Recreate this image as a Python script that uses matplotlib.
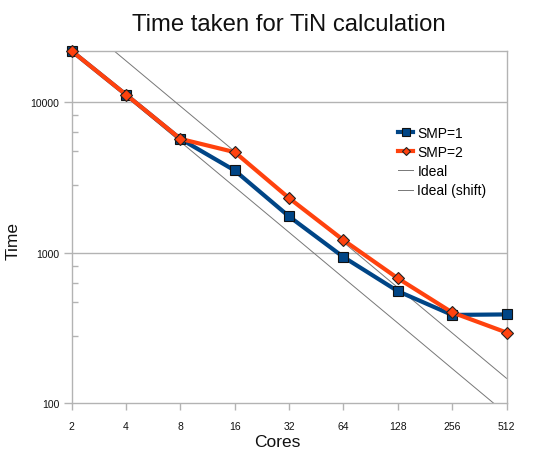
import matplotlib
matplotlib.use("Agg")
import matplotlib.pyplot as plt
from matplotlib.ticker import FixedLocator, NullFormatter

plt.rcParams['font.family'] = ['Liberation Sans', 'DejaVu Sans']

cores = [2, 4, 8, 16, 32, 64, 128, 256, 512]
smp1 = [21800, 11180, 5690, 3510, 1738, 935, 555, 386, 389]
smp2 = [21800, 11180, 5690, 4645, 2300, 1211, 676, 401, 295]
ideal = [21800, 10900, 5450, 2725, 1363, 681, 341, 170, 85]
ideal_shift = [37500, 18750, 9375, 4690, 2344, 1172, 586, 293, 146.5]
x_labels = ['2', '4', '8', '16', '32', '64', '128', '256', '512']
y_ticks = [100, 1000, 10000]
y_labels = ['100', '1000', '10000']

W, H = 555, 456
fig = plt.figure(figsize=(W / 100, H / 100), dpi=100)
left, right, top, bottom = 71.7, 506.5, 52.0, 404.3
ax = fig.add_axes([left / W, 1 - bottom / H, (right - left) / W, (bottom - top) / H])

grid_c = '#b3b3b3'
ax.set_xscale('log', base=2)
ax.set_yscale('log')
ax.set_xlim(2, 512)
ax.set_ylim(100, 21800)

for v in [1000, 10000]:
    ax.axhline(v, color=grid_c, lw=1.0, zorder=0.5)

ax.plot(cores, ideal, color='#777777', lw=0.7, label='Ideal', zorder=2)
ax.plot(cores, ideal_shift, color='#777777', lw=0.7, label='Ideal (shift)', zorder=2)
ax.plot(cores, smp1, color='#004586', lw=3.0, marker='s', markersize=7.3,
        markerfacecolor='#004586', markeredgecolor='#111111', markeredgewidth=0.8,
        label='SMP=1', clip_on=False, zorder=3)
ax.plot(cores, smp2, color='#ff420e', lw=3.0, marker='D', markersize=6.3,
        markerfacecolor='#ff420e', markeredgecolor='#222222', markeredgewidth=0.8,
        label='SMP=2', clip_on=False, zorder=4)

for s in ax.spines.values():
    s.set_color(grid_c)
    s.set_linewidth(1.0)

ax.xaxis.set_major_locator(FixedLocator(cores))
ax.set_xticklabels(x_labels)
ax.xaxis.set_minor_locator(FixedLocator([]))
ax.yaxis.set_major_locator(FixedLocator(y_ticks))
ax.set_yticklabels(y_labels)
minors = []
for d in [100, 1000, 10000]:
    for f in [2.8, 4.7, 6.3, 8.2]:
        if d * f < 21800:
            minors.append(d * f)
ax.yaxis.set_minor_locator(FixedLocator(minors))
ax.yaxis.set_minor_formatter(NullFormatter())

ax.tick_params(axis='x', which='major', direction='out', length=5, width=1,
               color=grid_c, labelsize=7.5, pad=8, labelcolor='#111111')
ax.tick_params(axis='y', which='major', direction='out', length=6, width=1,
               color=grid_c, labelsize=7.5, pad=3, labelcolor='#111111')
ax.tick_params(axis='y', which='minor', direction='in', length=4, width=1,
               color=grid_c)

fig.text((left + right) / 2 / W, 1 - 25 / H, 'Time taken for TiN calculation',
         ha='center', va='center', fontsize=17.2, color='#111111')
fig.text(0.5, 1 - 443 / H, 'Cores', ha='center', va='center', fontsize=12.5,
         color='#111111')
fig.text(13 / W, 1 - 241 / H, 'Time', ha='center', va='center', rotation=90,
         fontsize=12.5, color='#111111')

handles, labels = ax.get_legend_handles_labels()
order = [2, 3, 0, 1]
leg = fig.legend([handles[i] for i in order], [labels[i] for i in order],
                 loc='upper left', bbox_to_anchor=(398 / W, 1 - 127 / H),
                 frameon=False, fontsize=10, handlelength=1.1, handletextpad=0.3,
                 labelspacing=0.37, markerscale=0.7, borderpad=0, borderaxespad=0)

fig.savefig('out.png', dpi=100)
